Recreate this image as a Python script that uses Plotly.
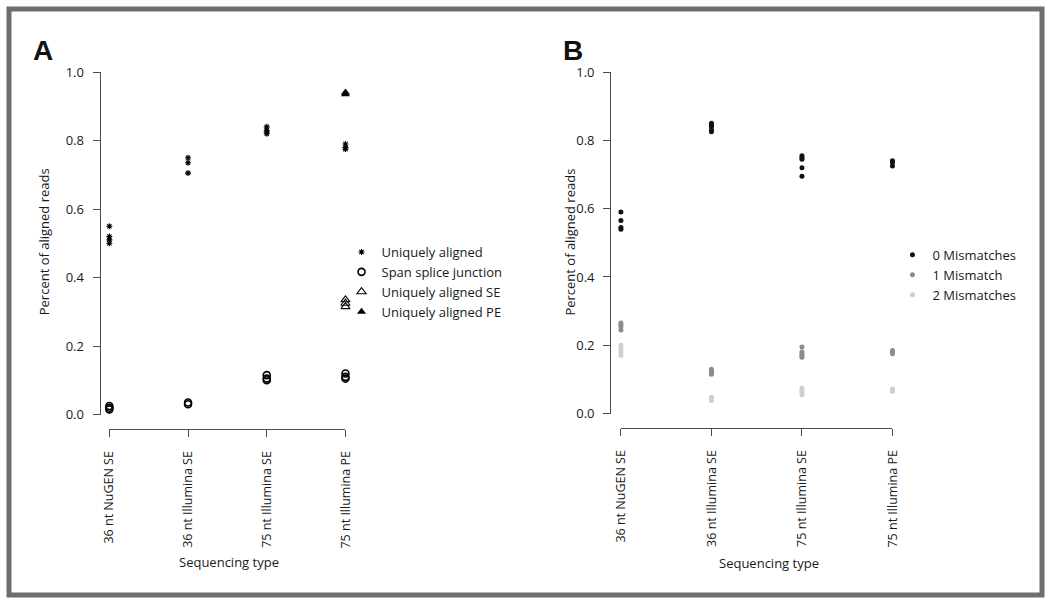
import plotly.graph_objects as go

W, H = 1050, 604
FONT = "Open Sans"

categories = ["36 nt NuGEN SE", "36 nt Illumina SE", "75 nt Illumina SE", "75 nt Illumina PE"]
y_ticks = [0.0, 0.2, 0.4, 0.6, 0.8, 1.0]
y_tick_text = ["0.0", "0.2", "0.4", "0.6", "0.8", "1.0"]

# Panel A
uniq_cat = [0, 0, 0, 0, 1, 1, 1, 2, 2, 2, 2, 3, 3, 3]
uniq_val = [0.55, 0.52, 0.51, 0.50, 0.75, 0.735, 0.705, 0.84, 0.83, 0.825, 0.82, 0.79, 0.78, 0.775]
splice_cat = [0, 0, 0, 1, 1, 2, 2, 2, 3, 3, 3]
splice_val = [0.025, 0.02, 0.015, 0.035, 0.03, 0.115, 0.105, 0.10, 0.12, 0.11, 0.105]
se_cat = [3, 3, 3]
se_val = [0.335, 0.325, 0.315]
pe_cat = [3, 3]
pe_val = [0.94, 0.935]

# Panel B
mm0_cat = [0, 0, 0, 0, 1, 1, 1, 1, 1, 2, 2, 2, 2, 2, 3, 3, 3]
mm0_val = [0.59, 0.565, 0.545, 0.54, 0.85, 0.845, 0.84, 0.83, 0.825,
           0.755, 0.75, 0.745, 0.72, 0.695, 0.74, 0.735, 0.725]
mm1_cat = [0, 0, 0, 0, 1, 1, 1, 1, 2, 2, 2, 2, 2, 3, 3, 3]
mm1_val = [0.265, 0.26, 0.255, 0.245, 0.13, 0.125, 0.12, 0.115,
           0.195, 0.18, 0.175, 0.17, 0.165, 0.185, 0.18, 0.175]
mm2_cat = [0, 0, 0, 0, 1, 1, 1, 2, 2, 2, 2, 3, 3]
mm2_val = [0.2, 0.19, 0.18, 0.17, 0.048, 0.042, 0.038, 0.075, 0.068, 0.062, 0.055, 0.072, 0.065]


def cx(idx):
    return [categories[i] for i in idx]


fig = go.Figure()
AX = "#4d4d4d"
TXT = "#1a1a1a"

fig.add_trace(go.Scatter(x=cx(uniq_cat), y=uniq_val, mode="markers", name="Uniquely aligned",
                         marker=dict(symbol="asterisk-open", size=5, color="black", line=dict(color="black", width=1.1)),
                         cliponaxis=False, xaxis="x", yaxis="y", legend="legend"))
fig.add_trace(go.Scatter(x=cx(splice_cat), y=splice_val, mode="markers", name="Span splice junction",
                         marker=dict(symbol="circle-open", size=7, color="black", line=dict(color="black", width=1.6)),
                         cliponaxis=False, xaxis="x", yaxis="y", legend="legend"))
fig.add_trace(go.Scatter(x=cx(se_cat), y=se_val, mode="markers", name="Uniquely aligned SE",
                         marker=dict(symbol="triangle-up-open", size=8, color="black", line=dict(color="black", width=1.1)),
                         cliponaxis=False, xaxis="x", yaxis="y", legend="legend"))
fig.add_trace(go.Scatter(x=cx(pe_cat), y=pe_val, mode="markers", name="Uniquely aligned PE",
                         marker=dict(symbol="triangle-up", size=8, color="black"),
                         cliponaxis=False, xaxis="x", yaxis="y", legend="legend"))

fig.add_trace(go.Scatter(x=cx(mm0_cat), y=mm0_val, mode="markers", name="0 Mismatches",
                         marker=dict(symbol="circle", size=5, color="#111111"),
                         cliponaxis=False, xaxis="x2", yaxis="y2", legend="legend2"))
fig.add_trace(go.Scatter(x=cx(mm1_cat), y=mm1_val, mode="markers", name="1 Mismatch",
                         marker=dict(symbol="circle", size=5, color="#8c8c8c"),
                         cliponaxis=False, xaxis="x2", yaxis="y2", legend="legend2"))
fig.add_trace(go.Scatter(x=cx(mm2_cat), y=mm2_val, mode="markers", name="2 Mismatches",
                         marker=dict(symbol="circle", size=5, color="#cfcfcf"),
                         cliponaxis=False, xaxis="x2", yaxis="y2", legend="legend2"))


def px_x(p):
    return p / W


def px_y(p):
    return 1 - p / H


tickfont = dict(family=FONT, size=13, color=TXT)
xtickfont = dict(family=FONT, size=12.5, color=TXT)
common_x = dict(type="category", categoryorder="array", categoryarray=categories, range=[0, 3],
                showline=True, linecolor=AX, linewidth=1, ticks="outside", ticklen=7, tickcolor=AX,
                tickangle=-90, tickfont=xtickfont, showgrid=False, zeroline=False, anchor="free",
                ticklabelstandoff=9)
common_y = dict(range=[0, 1], tickvals=y_ticks, ticktext=y_tick_text, showline=True, linecolor=AX,
                linewidth=1, ticks="outside", ticklen=7, tickcolor=AX, tickfont=tickfont,
                showgrid=False, zeroline=False, anchor="free", ticklabelstandoff=6)

fig.update_layout(
    width=W, height=H, margin=dict(l=0, r=0, t=0, b=0),
    paper_bgcolor="white", plot_bgcolor="white",
    font=dict(family=FONT, color=TXT),
    xaxis=dict(common_x, domain=[px_x(102), px_x(342)], position=px_y(433)),
    yaxis=dict(common_y, domain=[px_y(418), px_y(65)], position=px_x(92)),
    xaxis2=dict(common_x, domain=[px_x(622), px_x(898)], position=px_y(432)),
    yaxis2=dict(common_y, domain=[px_y(417), px_y(65)], position=px_x(611)),
    legend=dict(x=px_x(338), y=px_y(235), xanchor="left", yanchor="top",
                font=dict(family=FONT, size=13, color=TXT), bgcolor="rgba(0,0,0,0)",
                itemwidth=30, tracegroupgap=0),
    legend2=dict(x=px_x(898), y=px_y(238), xanchor="left", yanchor="top",
                 font=dict(family=FONT, size=13, color=TXT), bgcolor="rgba(0,0,0,0)",
                 itemwidth=30, tracegroupgap=0),
    showlegend=True,
)

ann = [
    dict(text="<b>A</b>", x=px_x(35), y=px_y(43)),
    dict(text="<b>B</b>", x=px_x(573), y=px_y(43)),
]
for a in ann:
    fig.add_annotation(text=a["text"], x=a["x"], y=a["y"], xref="paper", yref="paper",
                       showarrow=False, font=dict(family="Liberation Sans", size=28, color="#111"),
                       xanchor="center", yanchor="middle")

for (x, y) in [(35, 240), (570, 240)]:
    fig.add_annotation(text="Percent of aligned reads", x=px_x(x), y=px_y(y), xref="paper", yref="paper",
                       showarrow=False, textangle=-90, font=dict(family=FONT, size=13, color=TXT),
                       xanchor="center", yanchor="middle")
for (x, y) in [(224, 570), (773, 571)]:
    fig.add_annotation(text="Sequencing type", x=px_x(x), y=px_y(y), xref="paper", yref="paper",
                       showarrow=False, font=dict(family=FONT, size=13, color=TXT),
                       xanchor="center", yanchor="middle")

fig.add_shape(type="rect", xref="paper", yref="paper", x0=0, y0=0, x1=1, y1=1,
              line=dict(color="#6e6e6e", width=5), fillcolor="rgba(0,0,0,0)")

fig.write_html("out.html", config={"displayModeBar": False},
               post_script="document.body.style.margin='0';document.body.style.padding='0';"
                           "document.documentElement.style.overflow='hidden';")
